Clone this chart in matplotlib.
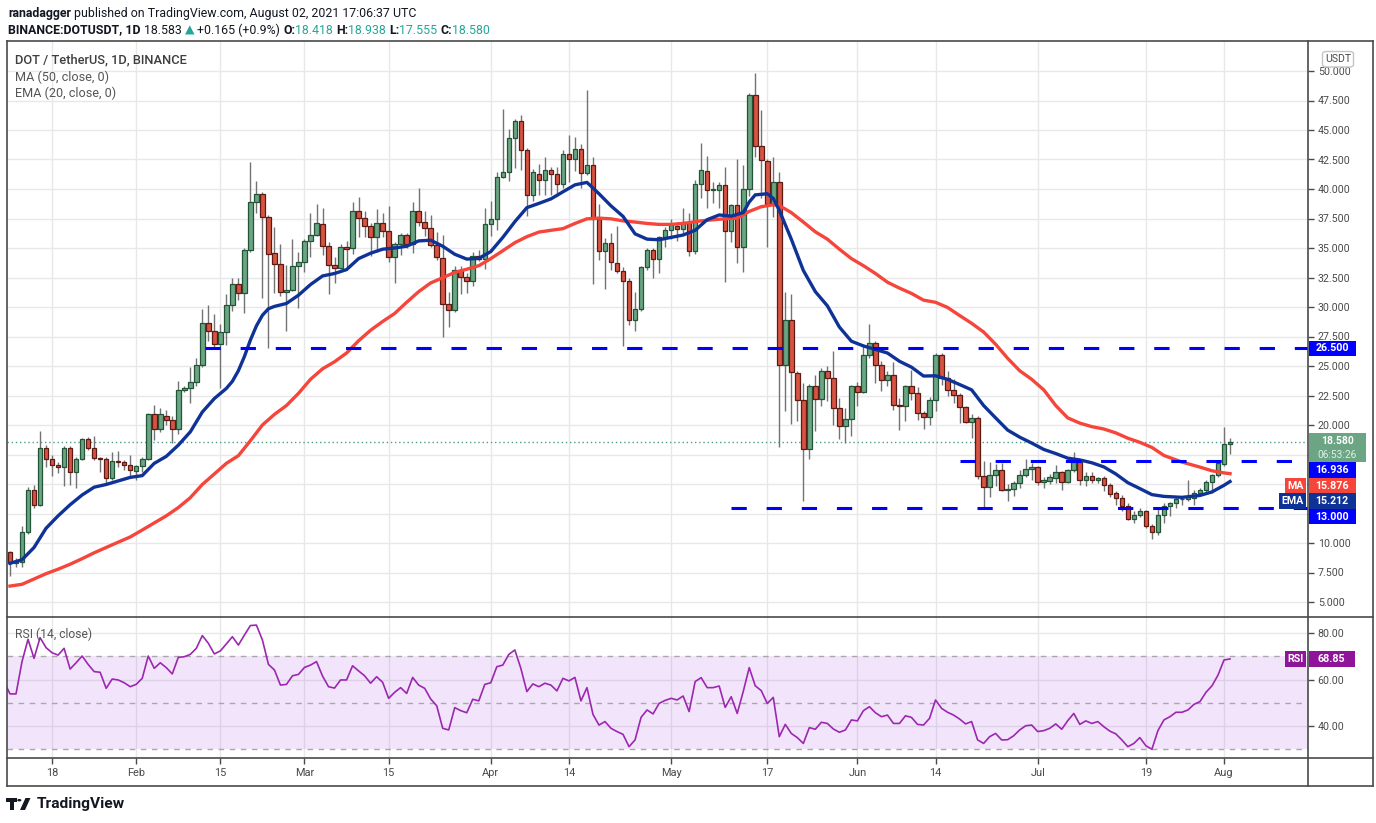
import numpy as np
import matplotlib
matplotlib.use("Agg")
import matplotlib.pyplot as plt
from matplotlib.patches import Rectangle, Polygon, FancyBboxPatch, Circle
from matplotlib.lines import Line2D

# ---------------- data ----------------
opens = [9.26, 8.30, 8.37, 10.96, 14.46, 13.18, 18.02, 17.1, 16.6, 16.4,
         18.05, 16.0, 17.16, 18.8, 18.02, 17.22, 17.1, 15.47, 16.95, 16.83,
         16.57, 16.1, 16.5, 17.16, 20.9, 19.7, 20.8, 20.4, 19.7, 22.98,
         23.1, 23.63, 25.06, 28.68, 27.94, 26.9, 27.85, 30.17, 31.98, 31.15,
         34.86, 38.92, 39.6, 37.65, 34.6, 33.67, 31.24, 31.47, 33.5, 33.85,
         35.63, 36.13, 37.05, 35.2, 33.58, 33.34, 35.12, 35.0, 38.15, 37.56,
         36.88, 35.96, 37.14, 36.46, 34.26, 35.36, 36.13, 35.36, 38.15, 37.24,
         36.7, 35.24, 34.17, 30.23, 29.75, 33.17, 32.57, 32.24, 34.35, 34.03,
         37.06, 37.5, 41.03, 41.4, 44.33, 45.78, 43.29, 39.52, 41.3, 40.8,
         41.63, 41.3, 40.44, 42.93, 42.58, 43.4, 41.39, 42.07, 37.45, 34.77,
         35.45, 33.76, 33.02, 32.24, 28.92, 29.87, 33.43, 34.86, 34.03, 35.96,
         36.55, 36.9, 36.64, 37.23, 34.77, 40.44, 41.55, 39.9, 39.95, 40.3,
         36.43, 38.66, 35.12, 40.03, 47.98, 43.68, 42.4, 38.69, 40.62, 25.06,
         28.92, 24.38, 22.09, 17.93, 23.28, 22.18, 24.55, 24.0, 21.4, 19.89,
         20.49, 23.28, 22.83, 25.89, 26.99, 25.06, 23.78, 24.2, 21.73, 21.65,
         23.28, 22.68, 20.99, 20.72, 22.09, 25.89, 23.96, 22.98, 22.54, 21.5,
         20.22, 20.6, 15.7, 14.73, 15.8, 16.2, 14.46, 14.6, 15.05, 15.8,
         16.3, 16.45, 15.2, 15.26, 15.5, 16.0, 15.2, 16.15, 16.9, 15.32,
         15.7, 15.32, 15.47, 14.9, 14.22, 13.78, 13.1, 12.0, 12.38, 12.68,
         11.46, 10.96, 12.35, 13.1, 13.35, 13.7, 13.72, 13.84, 14.27, 14.46,
         15.2, 15.75, 16.66, 18.418]
highs = [9.3, 8.75, 11.46, 14.73, 14.9, 19.48, 18.3, 17.5, 16.9, 18.2,
         18.2, 17.3, 18.9, 18.97, 19.1, 17.3, 17.3, 17.7, 17.8, 17.05,
         17.5, 16.6, 17.3, 21.05, 21.7, 21.4, 21.3, 20.75, 23.7, 23.3,
         24.9, 25.7, 29.8, 30.2, 29.4, 28.6, 31.06, 32.48, 32.48, 35.0,
         42.28, 40.7, 39.75, 37.8, 36.8, 35.3, 33.6, 35.75, 34.65, 35.75,
         37.94, 38.7, 38.4, 35.5, 34.2, 35.3, 35.6, 38.93, 39.34, 38.1,
         37.1, 38.27, 38.0, 38.6, 35.54, 36.3, 36.3, 38.87, 40.1, 38.1,
         37.8, 36.35, 36.13, 31.3, 33.46, 33.5, 32.9, 34.7, 34.8, 38.36,
         38.95, 41.4, 46.82, 45.1, 45.9, 46.3, 43.5, 41.7, 42.1, 42.73,
         41.9, 41.85, 43.3, 44.6, 44.4, 43.8, 48.43, 42.7, 38.7, 35.84,
         36.3, 36.9, 33.4, 32.5, 31.3, 33.5, 35.0, 35.0, 36.05, 36.8,
         37.5, 37.2, 38.35, 37.97, 40.8, 43.9, 42.8, 40.6, 40.6, 41.9,
         38.7, 42.5, 42.0, 48.1, 49.8, 46.73, 42.5, 42.67, 41.4, 31.3,
         31.1, 24.6, 23.6, 23.5, 24.2, 24.85, 25.0, 26.25, 22.3, 21.4,
         23.43, 23.63, 26.84, 28.6, 27.1, 25.4, 24.6, 25.3, 22.3, 23.36,
         24.7, 23.2, 21.2, 22.4, 26.1, 26.1, 24.6, 23.9, 22.7, 21.6,
         20.95, 20.8, 16.95, 16.9, 16.7, 16.75, 14.96, 15.26, 16.15, 17.1,
         16.75, 16.5, 15.56, 15.85, 16.6, 16.1, 16.3, 17.7, 17.04, 16.0,
         16.0, 15.6, 15.7, 15.1, 14.4, 14.1, 13.4, 12.74, 12.95, 12.8,
         11.6, 12.9, 13.4, 13.47, 13.96, 14.0, 15.3, 14.49, 14.7, 15.32,
         15.87, 16.95, 19.82, 18.938]
lows = [7.19, 8.0, 7.99, 10.8, 13.0, 13.1, 16.45, 15.7, 15.9, 14.8,
        14.95, 14.65, 17.04, 17.9, 17.0, 16.0, 14.96, 15.32, 16.4, 16.2,
        15.7, 15.3, 16.0, 17.0, 18.7, 19.4, 20.0, 18.5, 19.2, 22.8,
        21.9, 23.3, 24.9, 27.1, 26.4, 23.1, 26.8, 29.66, 30.6, 29.5,
        34.7, 37.97, 30.76, 26.5, 31.2, 30.9, 27.97, 31.35, 29.9, 33.0,
        34.2, 36.0, 34.4, 31.1, 32.0, 33.2, 33.4, 34.47, 35.94, 35.9,
        34.35, 34.7, 35.9, 33.8, 32.0, 34.4, 35.0, 34.6, 36.9, 36.0,
        35.06, 33.97, 27.43, 28.3, 29.6, 31.1, 31.2, 31.74, 33.9, 33.22,
        36.05, 36.5, 40.95, 40.65, 41.75, 41.57, 37.7, 39.0, 39.5, 39.5,
        39.5, 39.39, 40.1, 40.6, 41.5, 40.1, 41.2, 31.95, 33.97, 31.5,
        33.1, 32.85, 26.7, 28.5, 28.0, 29.7, 33.1, 32.5, 32.9, 35.1,
        35.8, 35.6, 36.1, 34.3, 34.5, 39.2, 38.4, 38.8, 38.4, 32.1,
        35.5, 33.7, 32.98, 39.4, 42.74, 39.2, 35.1, 37.65, 18.1, 21.2,
        20.1, 20.3, 13.6, 17.1, 19.5, 21.65, 22.0, 20.0, 18.8, 18.44,
        19.06, 21.65, 22.68, 25.7, 23.6, 22.9, 23.3, 21.3, 19.55, 20.37,
        22.1, 20.45, 19.7, 20.0, 21.18, 23.4, 22.45, 21.9, 20.16, 20.16,
        18.9, 15.4, 13.03, 13.9, 14.8, 14.37, 13.6, 14.0, 14.7, 15.56,
        15.3, 14.9, 14.7, 15.0, 15.1, 14.5, 15.1, 16.05, 14.9, 14.8,
        15.06, 15.1, 14.37, 13.9, 13.2, 12.74, 11.95, 11.7, 12.2, 11.3,
        10.36, 10.66, 11.7, 12.27, 12.95, 13.2, 13.57, 13.26, 14.1, 14.3,
        14.2, 15.57, 16.5, 17.555]
closes = [8.28, 8.45, 10.96, 14.46, 13.18, 18.02, 17.1, 16.6, 16.4, 18.05,
          16.0, 17.16, 18.8, 18.02, 17.22, 17.1, 15.47, 16.95, 16.83, 16.57,
          16.15, 16.5, 17.16, 20.9, 19.7, 20.9, 20.4, 19.7, 22.98, 23.1,
          23.63, 25.06, 28.68, 27.94, 26.9, 27.85, 30.17, 31.98, 31.15, 34.86,
          38.92, 39.6, 37.65, 34.53, 33.67, 31.24, 31.47, 33.5, 33.85, 35.63,
          36.13, 37.14, 35.2, 33.58, 33.34, 35.12, 34.92, 38.15, 37.56, 36.88,
          35.96, 37.14, 36.43, 34.26, 35.36, 36.13, 35.36, 38.15, 37.24, 36.7,
          35.24, 34.26, 30.23, 29.75, 33.17, 32.57, 32.24, 34.35, 34.03, 37.06,
          37.5, 41.03, 41.4, 44.33, 45.78, 43.29, 39.52, 41.4, 40.8, 41.63,
          41.3, 40.44, 42.93, 42.58, 43.4, 41.39, 42.07, 37.45, 34.77, 35.45,
          33.82, 33.02, 32.24, 28.92, 29.87, 33.43, 34.86, 34.03, 35.96, 36.55,
          36.93, 36.64, 37.23, 34.77, 40.44, 41.63, 39.9, 39.95, 40.3, 36.43,
          38.66, 35.12, 40.03, 47.98, 43.68, 42.49, 38.69, 40.62, 25.06, 28.92,
          24.47, 22.09, 17.93, 23.28, 22.18, 24.55, 24.0, 21.4, 19.89, 20.49,
          23.28, 22.83, 25.89, 26.99, 25.06, 23.78, 24.2, 21.73, 21.65, 23.28,
          22.68, 20.99, 20.72, 22.09, 25.89, 23.96, 22.98, 22.54, 21.5, 20.22,
          20.6, 15.7, 14.73, 15.8, 16.2, 14.46, 14.6, 15.05, 15.8, 16.3,
          16.45, 15.2, 15.35, 15.56, 16.0, 15.2, 16.15, 16.9, 15.32, 15.7,
          15.32, 15.5, 14.9, 14.19, 13.78, 13.1, 12.0, 12.38, 12.68, 11.46,
          10.96, 12.35, 13.1, 13.35, 13.72, 13.77, 13.87, 14.27, 14.46, 15.2,
          15.75, 16.74, 18.4, 18.583]

ema_days = [0, 2, 4, 6, 8, 10, 12, 14, 16, 18, 20, 22, 24, 26, 28, 30, 32, 34, 36, 37,
            38, 39, 40, 41, 42, 43, 44, 46, 48, 50, 52, 54, 56, 58, 60, 62, 64, 66, 68, 70,
            72, 74, 76, 78, 80, 82, 84, 86, 88, 90, 92, 94, 96, 98, 100, 102, 104, 106, 108, 110,
            112, 114, 116, 118, 120, 122, 123, 124, 126, 127, 128, 130, 132, 134, 136, 138, 140, 142, 144, 146,
            148, 150, 152, 154, 156, 158, 160, 162, 164, 166, 168, 170, 172, 174, 176, 178, 180, 182, 184, 186,
            188, 190, 192, 195, 198, 200, 202, 203]
ema_vals = [8.28, 8.58, 9.62, 11.25, 12.3, 13.24, 14.07, 14.73, 14.96, 15.26, 15.56, 15.71, 16.75, 17.34, 18.29, 19.42, 21.1, 22.24, 23.1, 23.7,
            24.6, 25.8, 27.2, 28.4, 29.3, 29.85, 30.05, 30.3, 31.0, 31.9, 32.63, 32.84, 33.17, 34.1, 34.56, 34.9, 35.0, 35.15, 35.6, 35.66,
            35.15, 34.47, 34.06, 34.12, 34.7, 35.9, 37.23, 38.42, 38.78, 39.16, 39.76, 40.35, 40.56, 39.6, 38.57, 37.68, 36.2, 35.75, 35.7, 35.9,
            36.1, 36.5, 37.4, 37.8, 37.7, 38.0, 38.9, 39.5, 39.6, 39.2, 38.2, 35.75, 33.1, 31.3, 30.1, 28.3, 27.1, 26.7, 26.4, 26.1,
            25.4, 24.9, 24.15, 24.17, 23.87, 23.43, 22.98, 21.65, 20.6, 19.57, 18.97, 18.47, 17.93, 17.58, 17.19, 17.04, 16.8, 16.45, 15.85, 15.11,
            14.61, 14.1, 13.95, 13.87, 14.03, 14.33, 14.89, 15.212]

ma_days = [0, 2, 4, 6, 8, 10, 12, 14, 16, 18, 20, 22, 24, 26, 28, 30, 32, 34, 36, 38,
           40, 42, 44, 46, 48, 50, 52, 54, 56, 58, 60, 62, 64, 66, 68, 70, 72, 74, 76, 78,
           80, 82, 84, 86, 88, 90, 92, 94, 96, 98, 100, 102, 104, 106, 108, 110, 112, 115, 118, 121,
           123, 125, 127, 128, 130, 132, 134, 136, 138, 140, 142, 144, 146, 148, 150, 152, 154, 156, 158, 160,
           162, 164, 166, 168, 170, 172, 174, 176, 178, 180, 182, 184, 186, 188, 190, 192, 195, 198, 200, 202, 203]
ma_vals = [6.35, 6.5, 6.95, 7.4, 7.78, 8.2, 8.67, 9.17, 9.62, 10.07, 10.51, 11.1, 11.7, 12.3, 13.0, 13.84, 14.96, 15.85, 16.75, 17.4,
           18.67, 20.0, 20.9, 21.65, 22.68, 23.87, 24.76, 25.36, 26.1, 27.14, 28.03, 28.77, 29.45, 30.4, 31.3, 32.04, 32.48, 32.93, 33.2, 33.5,
           34.1, 34.77, 35.45, 35.96, 36.35, 36.5, 36.64, 37.08, 37.47, 37.53, 37.47, 37.3, 37.2, 37.08, 37.0, 37.0, 37.08, 37.3, 37.44, 37.53,
           38.1, 38.5, 38.66, 38.6, 38.0, 37.2, 36.37, 35.75, 34.9, 34.1, 33.5, 32.84, 32.1, 31.6, 31.15, 30.58, 30.4, 29.96, 29.28, 28.62,
           27.88, 26.84, 25.65, 24.6, 23.87, 22.98, 21.65, 20.6, 20.16, 19.86, 19.66, 19.33, 18.88, 18.53, 18.1, 17.42, 16.86, 16.43, 16.12, 15.94, 15.876]

rsi_first_day = -1
rsi_vals = [59.1,
            53.8, 53.8, 67.7, 77.3, 69.1, 78.0, 73.7, 71.5, 70.5, 73.4,
            64.5, 67.2, 70.1, 66.5, 63.4, 63.1, 56.2, 60.2, 59.8, 58.6,
            56.9, 57.9, 60.5, 70.1, 64.8, 67.2, 65.1, 62.4, 69.5, 69.8,
            70.8, 73.4, 78.9, 75.6, 71.0, 72.3, 75.3, 78.4, 74.8, 79.1,
            83.2, 83.4, 77.0, 66.5, 64.1, 57.6, 57.9, 61.6, 62.2, 65.2,
            66.2, 67.7, 61.5, 56.9, 56.3, 59.8, 59.8, 65.9, 63.7, 61.6,
            58.4, 61.2, 58.8, 51.9, 54.5, 56.5, 54.0, 60.9, 57.6, 56.2,
            51.6, 48.7, 39.0, 38.3, 47.9, 46.6, 45.7, 51.5, 50.8, 57.9,
            58.6, 65.5, 66.2, 70.8, 72.7, 64.8, 54.8, 58.1, 56.9, 58.4,
            57.6, 55.1, 60.5, 59.4, 60.9, 50.8, 56.5, 45.0, 40.4, 41.9,
            39.0, 37.6, 36.4, 31.1, 34.0, 43.7, 46.9, 45.2, 49.7, 51.0,
            51.9, 51.2, 52.9, 46.2, 59.1, 60.8, 56.5, 56.5, 57.2, 48.0,
            52.6, 45.4, 54.8, 65.1, 57.3, 55.2, 49.7, 52.3, 35.4, 40.7,
            36.8, 35.0, 32.5, 39.3, 38.6, 41.6, 41.1, 38.7, 37.3, 38.3,
            42.6, 42.2, 46.6, 48.3, 45.7, 44.0, 44.7, 41.1, 41.1, 44.4,
            43.7, 40.7, 40.4, 43.3, 51.2, 47.6, 45.9, 44.7, 43.0, 40.9,
            41.9, 34.0, 32.5, 35.4, 36.8, 34.0, 34.1, 35.8, 38.3, 40.1,
            40.4, 37.6, 38.0, 39.0, 40.9, 38.6, 42.3, 45.4, 40.7, 42.2,
            41.1, 41.9, 39.7, 37.8, 36.6, 34.0, 31.1, 32.5, 35.0, 31.5,
            30.0, 38.0, 42.6, 44.0, 45.9, 45.9, 46.9, 49.3, 50.5, 54.5,
            57.3, 61.9, 68.4, 68.85]

tick_days = [7, 21, 35, 49, 63, 80, 93, 110, 126, 141, 154, 171, 189, 202]
tick_labels = ["18", "Feb", "15", "Mar", "15", "Apr", "14", "May", "17", "Jun", "14", "Jul", "19", "Aug"]
price_ticks = list(np.arange(5.0, 50.01, 2.5))
rsi_ticks = [40, 60, 80]

levels = [26.5, 16.936, 13.0]
level_start_days = [32.4, 158.1, 120.0]
last_price = 18.580
last_change = "+0.165 (+0.9%)"
countdown = "06:53:26"
ma_last = 15.876
ema_last = 15.212
rsi_last = 68.85

# ---------------- layout ----------------
W, H = 1376, 823
fig = plt.figure(figsize=(W / 100, H / 100), dpi=100)
fig.patch.set_facecolor("white")
renderer = fig.canvas.get_renderer()

def fx(p):
    return p / W

def fy(p):
    return 1 - p / H

PL, PR, PT, PS, PB, PBOT, PRR = 6.5, 1308, 41, 617, 758, 786, 1373
X0, DX = 10.0, 6.01          # pixel x of day 0, pixels per day
Y50, PPU = 71.0, 11.8        # pixel y of price 50, pixels per unit
R80, RPP = 633.0, 93.0 / 40  # pixel y of RSI 80, pixels per RSI unit

ax = fig.add_axes([fx(PL), fy(PS), (PR - PL) / W, (PS - PT) / H])
axr = fig.add_axes([fx(PL), fy(PB), (PR - PL) / W, (PB - PS) / H])
xlim = ((PL - X0) / DX, (PR - X0) / DX)
for a in (ax, axr):
    a.set_xlim(*xlim)
    a.set_facecolor("white")
    for s in a.spines.values():
        s.set_visible(False)
ax.set_ylim(50 - (PS - Y50) / PPU, 50 + (Y50 - PT) / PPU)
axr.set_ylim(80 - (PB - R80) / RPP, 80 + (R80 - PS) / RPP)

def price_px(p):
    return Y50 + (50 - p) * PPU

def rsi_px(r):
    return R80 + (80 - r) * RPP

GRID = "#e8e8e8"
AXC = "#4a4a4a"
TXT = "Roboto"

# grid
for v in price_ticks:
    ax.axhline(v, color=GRID, lw=1, zorder=0)
for d in tick_days:
    ax.axvline(d, color=GRID, lw=1, zorder=0)
    axr.axvline(d, color=GRID, lw=1, zorder=0)
for v in rsi_ticks:
    axr.axhline(v, color=GRID, lw=1, zorder=0)

# candles
o = np.array(opens); h = np.array(highs); l = np.array(lows); c = np.array(closes)
days = np.arange(len(c))
up = c >= o
ax.vlines(days, l, h, color="#737375", lw=1, zorder=2)
blo = np.minimum(o, c)
bh = np.maximum(np.abs(c - o), 0.07)
ax.bar(days[up], bh[up], bottom=blo[up], width=0.76, color="#6ba583",
       edgecolor="#225437", linewidth=0.9, zorder=3)
ax.bar(days[~up], bh[~up], bottom=blo[~up], width=0.76, color="#d75442",
       edgecolor="#5b1a13", linewidth=0.9, zorder=3)

# moving averages
ax.plot(ma_days, ma_vals, color="#f6453a", lw=2.4, zorder=4, solid_joinstyle="round")
ax.plot(ema_days, ema_vals, color="#0f3297", lw=2.4, zorder=4.1, solid_joinstyle="round")

# last price dotted line
ax.axhline(last_price, color="#4f9b83", lw=1, dashes=(1, 2), zorder=1.5)

# horizontal levels
for lv, sd in zip(levels, level_start_days):
    ax.plot([sd, xlim[1]], [lv, lv], color="#0000ff", lw=2.2, dashes=(5, 6.5),
            dash_capstyle="butt", zorder=5)

# RSI
rdays = np.arange(rsi_first_day, rsi_first_day + len(rsi_vals))
axr.axhspan(30, 70, color="#8700e1", alpha=0.1, lw=0, zorder=0.5)
for v in (70, 50, 30):
    axr.axhline(v, color="#a8a8a8", lw=1, dashes=(4, 4), zorder=1)
axr.plot(rdays, rsi_vals, color="#9c27b0", lw=1.2, zorder=3)

# frame lines
def fline(x0, y0, x1, y1, lw=1.2):
    fig.add_artist(Line2D([fx(x0), fx(x1)], [fy(y0), fy(y1)], color=AXC, lw=lw, zorder=6))

fline(PL, PT, PRR, PT)
fline(PL, PBOT, PRR, PBOT)
fline(PL, PT, PL, PBOT)
fline(PRR, PT, PRR, PBOT)
fline(PR, PT, PR, PBOT)
fline(PL, PS, PRR, PS)
fline(PL, PB, PRR, PB)

# ---------------- right-side value boxes ----------------
def box(x0, x1, y0, y1, color):
    fig.add_artist(Rectangle((fx(x0), fy(y1)), (x1 - x0) / W, (y1 - y0) / H,
                             transform=fig.transFigure, facecolor=color,
                             edgecolor="none", zorder=7))

def btext(x, y, s, color="white", size=7.7, weight="bold", ha="center"):
    fig.text(fx(x), fy(y), s, color=color, fontsize=size, fontweight=weight,
             family=TXT, ha=ha, va="center", zorder=8)

VB0, VB1 = PR + 0.5, 1356
BH = 15.5
covered = []
# 26.5 level
yc = price_px(levels[0])
box(VB0, VB1, yc - BH / 2, yc + BH / 2, "#0000ff")
btext((VB0 + VB1) / 2, yc, f"{levels[0]:.3f}")

# last price with countdown
ylp = price_px(last_price)
lp_top, lp_bot = ylp - 8.5, ylp + 20.5
box(VB0, 1366, lp_top, lp_bot, "#6ba583")
btext((VB0 + 1366) / 2, lp_top + 7.3, f"{last_price:.3f}", size=7.5)
btext((VB0 + 1366) / 2, lp_top + 21.8, countdown, color="#dff0e6", weight="normal", size=7.3)

stack = [(levels[1], "#0000ff", None), (ma_last, "#f6453a", "MA"),
         (ema_last, "#0f3297", "EMA"), (levels[2], "#0000ff", None)]
cur = lp_bot
for val, col, tag in stack:
    top = max(price_px(val) - BH / 2, cur)
    bot = top + BH
    box(VB0, VB1, top, bot, col)
    btext((VB0 + VB1) / 2, (top + bot) / 2, f"{val:.3f}")
    if tag:
        tx0 = 1285 if tag == "MA" else 1279
        box(tx0, PR - 2, top, bot, col)
        btext((tx0 + PR - 2) / 2, (top + bot) / 2, tag)
    cur = bot
covered.append((lp_top, cur))

# RSI value
yr = rsi_px(rsi_last)
box(VB0, 1355, yr - 8, yr + 8, "#8e1599")
btext((VB0 + 1355) / 2, yr, f"{rsi_last:.2f}")
box(1285, PR - 2, yr - 8, yr + 8, "#8e1599")
btext((1285 + PR - 2) / 2, yr, "RSI")

# ticks (labels hidden where the value boxes cover them)
def price_label(v):
    y = price_px(v)
    for a, b in covered:
        if a - 4 <= y <= b + 4:
            return ""
    return f"{v:.3f}"

ax.yaxis.tick_right()
ax.set_yticks(price_ticks)
ax.set_yticklabels([price_label(v) for v in price_ticks])
ax.tick_params(axis="y", length=4, width=1, color=AXC, labelsize=7.7,
               labelcolor=AXC, pad=3)
ax.tick_params(axis="x", bottom=False, labelbottom=False)
for t in ax.get_yticklabels():
    t.set_family(TXT)
axr.yaxis.tick_right()
axr.set_yticks(rsi_ticks)
axr.set_yticklabels([f"{v:.2f}" for v in rsi_ticks])
axr.tick_params(axis="y", length=4, width=1, color=AXC, labelsize=7.7,
                labelcolor=AXC, pad=3)
axr.set_xticks(tick_days)
axr.set_xticklabels(tick_labels)
axr.tick_params(axis="x", length=4, width=1, color=AXC, labelsize=7.9,
                labelcolor=AXC, pad=3)
for t in axr.get_yticklabels() + axr.get_xticklabels():
    t.set_family(TXT)

# USDT box
fig.add_artist(FancyBboxPatch((fx(1322.5), fy(67)), 31 / W, 15.5 / H,
                              boxstyle="round,pad=0,rounding_size=0.003",
                              transform=fig.transFigure, facecolor="white",
                              edgecolor="#c4c4c4", lw=1, zorder=7))
fig.text(fx(1338), fy(59.3), "USDT", color=AXC, fontsize=7.6, family=TXT,
         ha="center", va="center", zorder=8)

# ---------------- texts ----------------
def measure(s, size, weight, family):
    t = fig.text(0, 0, s, fontsize=size, fontweight=weight, family=family)
    w = t.get_window_extent(renderer=renderer).width
    t.remove()
    return w

def fit_text(x, y, s, width_px, color, weight="normal", family=TXT):
    size = 10 * width_px / measure(s, 10, weight, family)
    fig.text(fx(x), fy(y), s, fontsize=size, fontweight=weight, family=family,
             color=color, ha="left", va="center", zorder=8)

def rich(x, y, pieces, size, family):
    for s, col, wt, gap in pieces:
        if gap:
            x += measure("a a", size, wt, family) - measure("aa", size, wt, family)
        t = fig.text(fx(x), fy(y), s, fontsize=size, fontweight=wt, family=family,
                     color=col, ha="left", va="center", zorder=8)
        x += t.get_window_extent(renderer=renderer).width
    return x

HF = [TXT, "DejaVu Sans"]
DK = "#131722"
TEAL = "#26a69a"
line1 = [("ranadagger", DK, "bold", False),
         ("published on TradingView.com, August 02, 2021 17:06:37 UTC", DK, "normal", True)]
base = 10
w1 = sum(measure(s, base, wt, HF) for s, _, wt, _ in line1) + \
     measure("a a", base, "normal", HF) - measure("aa", base, "normal", HF)
hsize = base * 409 / w1
rich(8, 13, line1, hsize, HF)
line2 = [("BINANCE:DOTUSDT, 1D", DK, "bold", False),
         (f"{closes[-1]:.3f}", DK, "normal", True),
         ("\u25b2", TEAL, "normal", True),
         (last_change, DK, "normal", True),
         ("O:", DK, "bold", True), (f"{opens[-1]:.3f}", TEAL, "normal", False),
         ("H:", DK, "bold", True), (f"{highs[-1]:.3f}", TEAL, "normal", False),
         ("L:", DK, "bold", True), (f"{lows[-1]:.3f}", TEAL, "normal", False),
         ("C:", DK, "bold", True), (f"{last_price:.3f}", TEAL, "normal", False)]
rich(8, 30, line2, hsize, HF)

fit_text(15, 60, "DOT / TetherUS, 1D, BINANCE", 173, "#3f3f3f", weight="medium")
fit_text(15, 77, "MA (50, close, 0)", 94, "#555555")
fit_text(15, 93, "EMA (20, close, 0)", 101, "#555555")
fit_text(15, 634, "RSI (14, close)", 77, "#555555")

# TradingView logo
def fpoly(pts, color):
    fig.add_artist(Polygon([(fx(a), fy(b)) for a, b in pts], closed=True,
                           transform=fig.transFigure, facecolor=color,
                           edgecolor="none", zorder=8))

fpoly([(6, 798), (16.5, 798), (16.5, 801.8), (14.2, 801.8), (14.2, 810),
       (10.2, 810), (10.2, 801.8), (6, 801.8)], DK)
fig.add_artist(Circle((fx(19.3), fy(800.2)), 2.1 / W, transform=fig.transFigure,
                      facecolor=DK, edgecolor="none", zorder=8))
fpoly([(25.5, 798), (30.5, 798), (25, 810), (20, 810)], DK)
fit_text(37, 804, "TradingView", 88, DK, weight="bold")

fig.savefig("out.png", dpi=100, facecolor="white")
